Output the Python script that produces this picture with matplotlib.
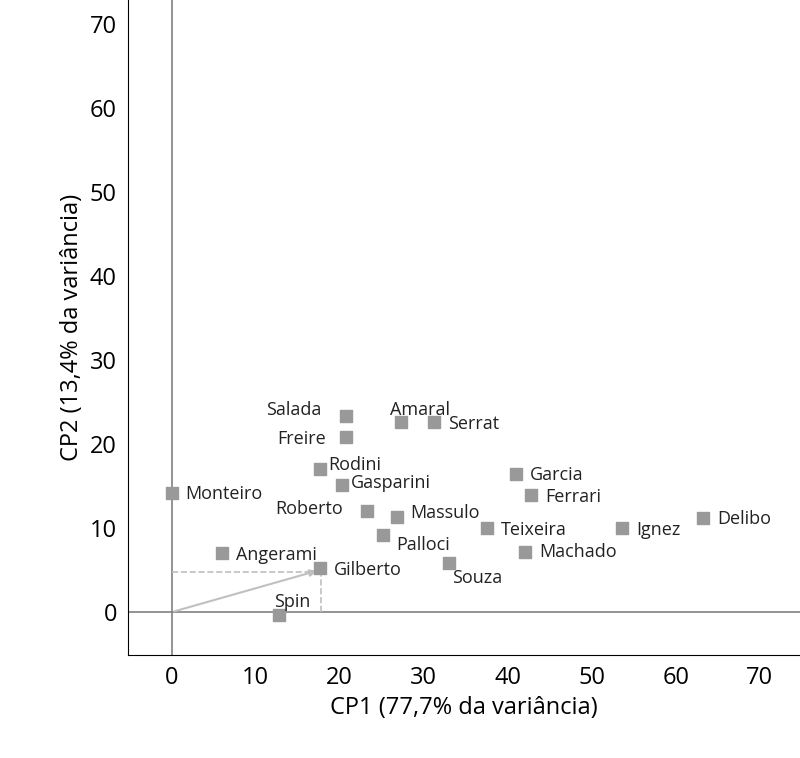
import matplotlib.pyplot as plt

plt.rcParams['font.family'] = ['Open Sans', 'DejaVu Sans']

names = ['Salada', 'Amaral', 'Serrat', 'Freire', 'Rodini', 'Gasparini', 'Garcia',
         'Ferrari', 'Monteiro', 'Roberto', 'Massulo', 'Teixeira', 'Ignez', 'Delibo',
         'Palloci', 'Machado', 'Angerami', 'Souza', 'Gilberto', 'Spin']
cp1 = [20.8, 27.3, 31.2, 20.8, 17.6, 20.3, 41.0, 42.8, 0.0, 23.2, 26.8, 37.5,
       53.6, 63.3, 25.2, 42.1, 6.0, 33.0, 17.6, 12.8]
cp2 = [23.3, 22.6, 22.6, 20.8, 17.0, 15.1, 16.5, 14.0, 14.2, 12.0, 11.3, 10.0,
       10.0, 11.2, 9.2, 7.1, 7.0, 5.9, 5.2, -0.3]
# label offsets in points
offsets = {'Salada': (-58, 5), 'Freire': (-50, -1), 'Roberto': (-66, 2),
           'Spin': (-4, 9), 'Souza': (2, -11), 'Palloci': (9, -7),
           'Amaral': (-8, 9), 'Rodini': (6, 3), 'Gasparini': (6, 2),
           'Massulo': (10, 3), 'Ferrari': (10, -2), 'Machado': (10, 0)}

fig = plt.figure(figsize=(8, 7.58), dpi=100)
ax = fig.add_axes([0.16, 0.136, 0.84, 0.864])

ax.axhline(0, color='#808080', lw=1.2, zorder=1)
ax.axvline(0, color='#808080', lw=1.2, zorder=1)
ax.plot([0, 17.8], [4.8, 4.8], ls='--', color='#bfbfbf', lw=1.2)
ax.plot([17.8, 17.8], [0, 4.8], ls='--', color='#bfbfbf', lw=1.2)
ax.annotate('', xy=(17.6, 5.0), xytext=(0, 0),
            arrowprops=dict(arrowstyle='-|>', color='#c0c0c0', lw=1.5))

ax.scatter(cp1, cp2, marker='s', s=70, color='#999999', zorder=3)
for n, x, y in zip(names, cp1, cp2):
    off = offsets.get(n, (10, -1))
    ax.annotate(n, (x, y), xytext=off, textcoords='offset points',
                fontsize=13, va='center', color='#222222')

ax.set_xlim(-5.2, 74.8)
ax.set_ylim(-5.1, 72.9)
ax.set_xticks(range(0, 71, 10))
ax.set_yticks(range(0, 71, 10))
ax.tick_params(labelsize=17, length=0, pad=8)
ax.spines['top'].set_visible(False)
ax.spines['right'].set_visible(False)
ax.set_xlabel('CP1 (77,7% da variância)', fontsize=17)
ax.set_ylabel('CP2 (13,4% da variância)', fontsize=17)

fig.savefig('out.png', dpi=100)
